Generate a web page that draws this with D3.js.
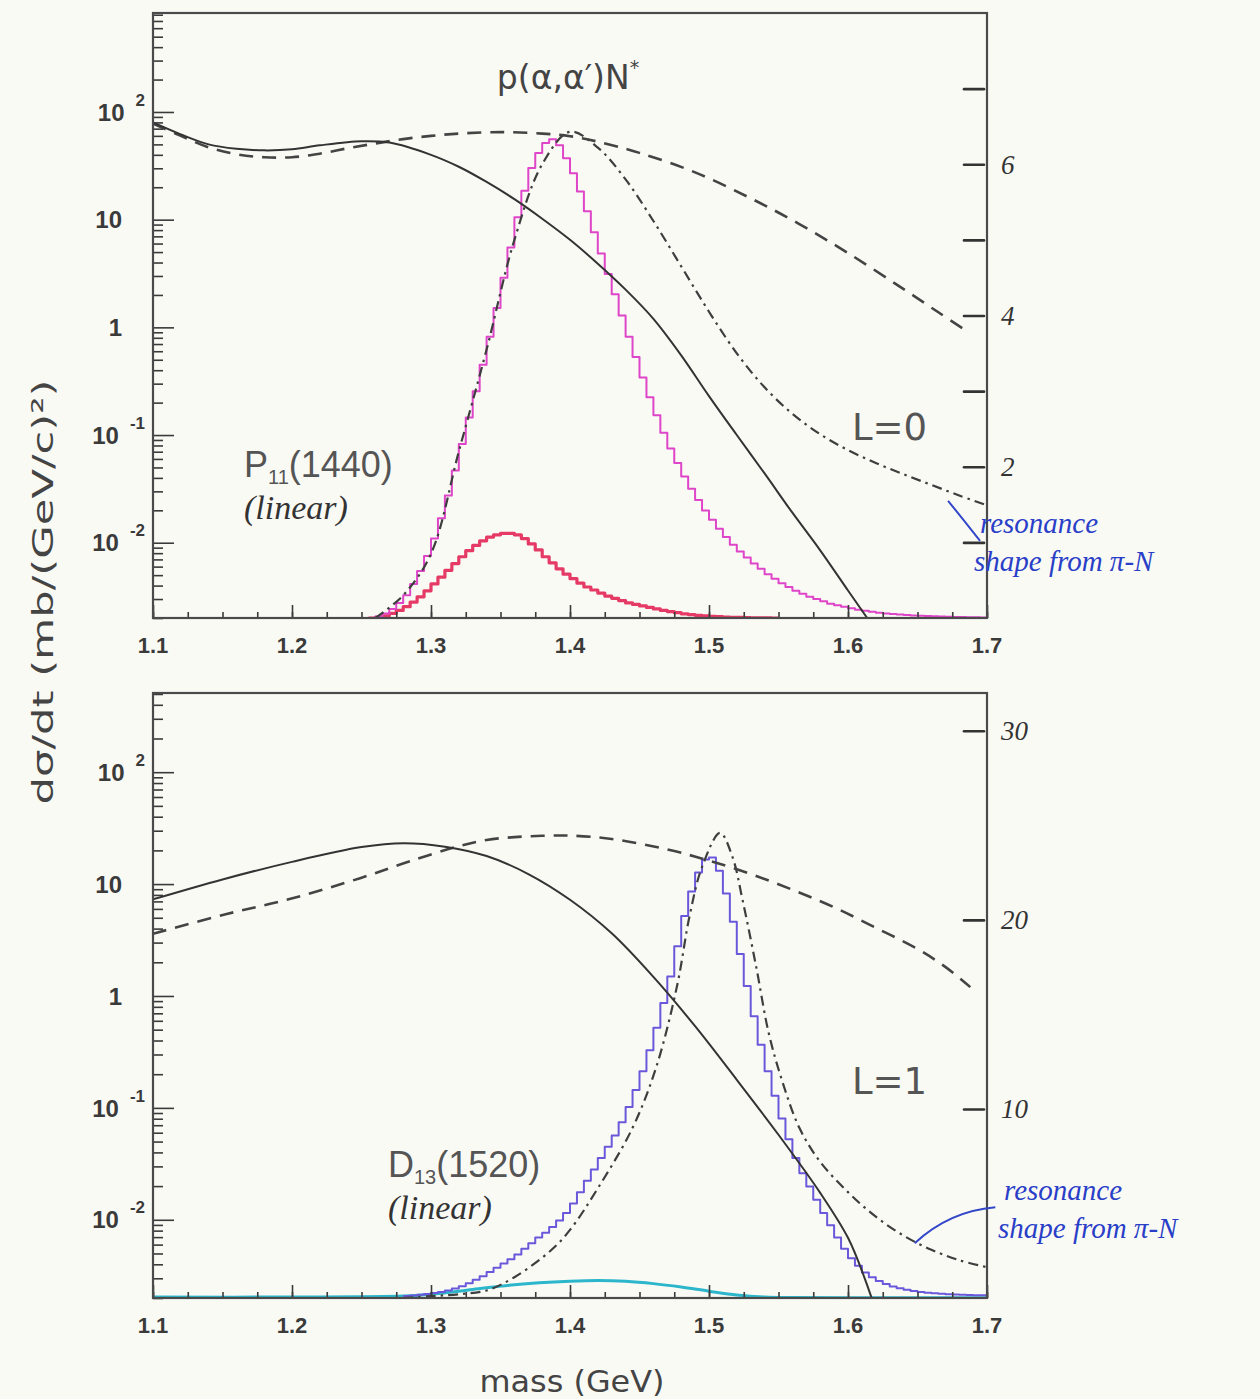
<!DOCTYPE html>
<html>
<head>
<meta charset="utf-8">
<title>p(α,α′)N*</title>
<script src="https://cdn.jsdelivr.net/npm/d3@7/dist/d3.min.js"></script>
<style>
  body { margin: 0; background: #fafaf5; }
  svg { display: block; }
</style>
</head>
<body>
<div id="chart"></div>
<script>
'use strict';

// ---- values ----
var massTicks = [1.1, 1.2, 1.3, 1.4, 1.5, 1.6, 1.7];
var decadeValues = [100, 10, 1, 0.1, 0.01];
var decadeBase = ['10', '10', '1', '10', '10'];
var decadeExp = ['2', '', '', '-1', '-2'];
var binWidth = 0.005;

// upper panel : P11(1440), L=0
var p11SolidMass = [1.10, 1.12, 1.14, 1.16, 1.18, 1.20, 1.22, 1.25, 1.27, 1.30, 1.32, 1.34, 1.36, 1.38, 1.40,
  1.42, 1.44, 1.46, 1.48, 1.50, 1.52, 1.54, 1.56, 1.58, 1.60, 1.615, 1.63];
var p11SolidVal = [80, 62, 50, 45.5, 44, 45, 49, 53.5, 52, 40, 31, 22.4, 15.5, 10.2, 6.5,
  3.9, 2.24, 1.2, 0.55, 0.23, 0.1, 0.044, 0.019, 0.0085, 0.0036, 0.0019, 0.001];
var p11DashMass = [1.10, 1.12, 1.14, 1.16, 1.18, 1.20, 1.22, 1.24, 1.26, 1.28, 1.30, 1.32, 1.35, 1.38, 1.40,
  1.42, 1.45, 1.49, 1.53, 1.565, 1.60, 1.637, 1.665, 1.686];
var p11DashVal = [78, 60, 47, 40.5, 38, 38, 41, 46, 51, 56, 60, 63, 65, 63, 59.6,
  53, 41.7, 27.5, 15.8, 9.1, 4.9, 2.4, 1.38, 0.91];
var p11DotMass = [1.26, 1.28, 1.30, 1.32, 1.34, 1.36, 1.38, 1.40, 1.42, 1.44, 1.46, 1.48, 1.50, 1.52,
  1.54, 1.56, 1.58, 1.60, 1.62, 1.64, 1.66, 1.68, 1.70];
var p11DotVal = [0, 0.3, 0.85, 2.2, 3.55, 5.0, 6.0, 6.43, 6.22, 5.8, 5.25, 4.65, 4.05, 3.5,
  3.05, 2.7, 2.43, 2.22, 2.05, 1.9, 1.76, 1.62, 1.49];
var p11HistStart = 1.255;
var p11Hist = [0.00, 0.02, 0.06, 0.12, 0.20, 0.30, 0.45, 0.62, 0.82, 1.05, 1.32, 1.62, 1.95, 2.30, 2.65,
  3.00, 3.35, 3.72, 4.10, 4.50, 4.90, 5.30, 5.65, 5.95, 6.15, 6.28, 6.33, 6.25, 6.08, 5.88,
  5.64, 5.38, 5.10, 4.82, 4.55, 4.28, 4.00, 3.72, 3.45, 3.18, 2.92, 2.68, 2.45, 2.24, 2.05,
  1.87, 1.71, 1.56, 1.42, 1.30, 1.18, 1.07, 0.97, 0.88, 0.80, 0.72, 0.65, 0.58, 0.52, 0.46,
  0.41, 0.36, 0.32, 0.28, 0.25, 0.22, 0.19, 0.17, 0.15, 0.13, 0.11, 0.095, 0.082, 0.07, 0.06,
  0.052, 0.045, 0.039, 0.034, 0.029, 0.025, 0.022, 0.019, 0.016, 0.014, 0.012, 0.010, 0.009, 0.008];
var p11RedStart = 1.255;
var p11Red = [0.00, 0.01, 0.03, 0.06, 0.10, 0.15, 0.21, 0.28, 0.36, 0.45, 0.54, 0.63, 0.72, 0.81, 0.89,
  0.96, 1.02, 1.07, 1.10, 1.12, 1.12, 1.10, 1.05, 0.98, 0.90, 0.81, 0.73, 0.65, 0.58, 0.52,
  0.46, 0.41, 0.37, 0.33, 0.29, 0.26, 0.23, 0.20, 0.18, 0.16, 0.14, 0.12, 0.10, 0.085, 0.07,
  0.055, 0.045, 0.035, 0.028, 0.022, 0.017, 0.013, 0.010, 0.007, 0.005, 0.003, 0.002, 0.001, 0.0];
var p11RightTicks = [1, 2, 3, 4, 5, 6, 7];
var p11RightLabels = [2, 4, 6];

// lower panel : D13(1520), L=1
var d13SolidMass = [1.10, 1.15, 1.20, 1.25, 1.28, 1.31, 1.34, 1.37, 1.40, 1.43, 1.46, 1.49, 1.52, 1.55,
  1.58, 1.60, 1.612, 1.625];
var d13SolidVal = [7.3, 11, 15.8, 21.4, 23.2, 21.6, 17.8, 12.3, 7.24, 3.63, 1.48, 0.537, 0.178, 0.0575,
  0.0174, 0.0069, 0.003, 0.001];
var d13DashMass = [1.10, 1.153, 1.201, 1.249, 1.285, 1.321, 1.34, 1.36, 1.38, 1.40, 1.43, 1.47, 1.50, 1.53,
  1.56, 1.59, 1.62, 1.65, 1.67, 1.688];
var d13DashVal = [3.6, 5.4, 7.5, 11.3, 16, 22.0, 24.8, 26.3, 27, 27.1, 25.3, 20.4, 16.2, 12.3,
  8.9, 6.2, 4.07, 2.63, 1.82, 1.2];
var d13DotMass = [1.28, 1.30, 1.32, 1.34, 1.36, 1.386, 1.40, 1.42, 1.445, 1.462, 1.477, 1.486, 1.495, 1.508,
  1.517, 1.524, 1.534, 1.543, 1.553, 1.565, 1.58, 1.60, 1.62, 1.64, 1.66, 1.68, 1.70];
var d13DotVal = [0, 0.1, 0.2, 0.4, 1.1, 2.5, 3.6, 5.8, 9.0, 12.2, 16.5, 20.2, 22.8, 24.6,
  23.3, 21.1, 17.5, 14.0, 11.4, 9.0, 7.2, 5.6, 4.3, 3.3, 2.55, 2.0, 1.63];
var d13HistStart = 1.28;
var d13Hist = [0.10, 0.13, 0.17, 0.21, 0.26, 0.32, 0.40, 0.50, 0.62, 0.78, 0.96, 1.15, 1.38, 1.60, 1.82,
  2.05, 2.30, 2.60, 2.90, 3.20, 3.45, 3.75, 4.10, 4.50, 5.00, 5.60, 6.20, 6.80, 7.40, 8.00,
  8.60, 9.30, 10.1, 11.0, 12.0, 13.1, 14.3, 15.6, 17.0, 18.6, 20.2, 21.5, 22.5, 23.2, 23.3,
  22.6, 21.4, 19.9, 18.2, 16.5, 14.9, 13.4, 12.0, 10.7, 9.5, 8.4, 7.4, 6.6, 5.9, 5.2,
  4.5, 3.85, 3.2, 2.6, 2.1, 1.7, 1.35, 1.1, 0.9, 0.74, 0.61, 0.51, 0.43, 0.37, 0.32,
  0.28, 0.25, 0.22, 0.20, 0.18, 0.17, 0.16, 0.15, 0.14];
var d13CyanMass = [1.10, 1.20, 1.28, 1.30, 1.33, 1.36, 1.40, 1.42, 1.44, 1.46, 1.48, 1.50, 1.52, 1.54, 1.56, 1.60, 1.70];
var d13CyanVal = [0.05, 0.05, 0.1, 0.2, 0.45, 0.7, 0.88, 0.92, 0.88, 0.76, 0.58, 0.36, 0.16, 0.05, 0.02, 0.01, 0.01];
var d13RightTicks = [10, 20, 30];
var d13RightLabels = [10, 20, 30];

// ---- drawing ----
var svg = d3.select('#chart').append('svg').attr('width', 1260).attr('height', 1399);
svg.append('rect').attr('width', 1260).attr('height', 1399).attr('fill', '#fafaf5');

var x = d3.scaleLinear().domain([1.1, 1.7]).range([153, 987]);
var minorMass = d3.range(0, 25).map(function(i) { return 1.1 + i * 0.025; });

var sans = '"Liberation Sans", Arial, sans-serif';
var wide = '"DejaVu Sans", "Liberation Sans", sans-serif';
var hand = '"Liberation Serif", "DejaVu Serif", serif';

function zipPts(m, v) {
  return m.map(function(d, i) { return [d, v[i]]; });
}
function histPts(start, vals) {
  var pts = vals.map(function(v, i) { return [start + i * binWidth, v]; });
  pts.push([start + vals.length * binWidth, vals[vals.length - 1]]);
  return pts;
}

function drawPanel(cfg) {
  var yLog = d3.scaleLog().domain(cfg.logDomain).range([cfg.bottom, cfg.top]);
  var yLin = d3.scaleLinear().domain(cfg.linDomain).range([cfg.bottom, cfg.top]);
  var g = svg.append('g').attr('class', 'panel-' + cfg.id);

  g.append('clipPath').attr('id', 'clip-' + cfg.id)
    .append('rect')
    .attr('x', x.range()[0]).attr('y', cfg.top)
    .attr('width', x.range()[1] - x.range()[0]).attr('height', cfg.bottom - cfg.top);

  var plot = g.append('g').attr('clip-path', 'url(#clip-' + cfg.id + ')');

  cfg.curves.forEach(function(c) {
    var yS = c.scale === 'log' ? yLog : yLin;
    var line = d3.line()
      .x(function(d) { return x(d[0]); })
      .y(function(d) { return yS(Math.max(d[1], c.scale === 'log' ? 1e-4 : 0)); })
      .curve(c.step ? d3.curveStepAfter : d3.curveCatmullRom.alpha(0.5));
    plot.append('path')
      .datum(c.pts)
      .attr('d', line)
      .attr('fill', 'none')
      .attr('stroke', c.color)
      .attr('stroke-width', c.width)
      .attr('stroke-dasharray', c.dash || null)
      .attr('stroke-linejoin', 'round');
  });

  // x ticks (inside, pointing up)
  var xMinor = g.append('g').attr('transform', 'translate(0,' + cfg.bottom + ')')
    .call(d3.axisTop(x).tickValues(minorMass).tickSize(6).tickFormat(''));
  var xMajor = g.append('g').attr('transform', 'translate(0,' + cfg.bottom + ')')
    .call(d3.axisTop(x).tickValues(massTicks).tickSize(13).tickFormat(''));

  // left log ticks
  var allLog = yLog.ticks();
  var isDecade = function(v) { return Math.abs(Math.log10(v) - Math.round(Math.log10(v))) < 1e-6; };
  var yMinor = g.append('g').attr('transform', 'translate(' + x.range()[0] + ',0)')
    .call(d3.axisRight(yLog).tickValues(allLog.filter(function(v) { return !isDecade(v); })).tickSize(10).tickFormat(''));
  var yMajor = g.append('g').attr('transform', 'translate(' + x.range()[0] + ',0)')
    .call(d3.axisRight(yLog).tickValues(allLog.filter(isDecade)).tickSize(21).tickFormat(''));

  // right linear ticks, drawn by hand on the original
  var yRight = g.append('g').attr('transform', 'translate(' + (x.range()[1] - 3) + ',0)')
    .call(d3.axisLeft(yLin).tickValues(cfg.rightTicks).tickSize(20).tickFormat(''));

  [xMinor, xMajor, yMinor, yMajor].forEach(function(a) {
    a.select('.domain').remove();
    a.selectAll('line').attr('stroke', '#3a3a3a').attr('stroke-width', 1.6);
  });
  yRight.select('.domain').remove();
  yRight.selectAll('line').attr('stroke', '#333').attr('stroke-width', 2.6).attr('stroke-linecap', 'round');

  // frame
  g.append('rect')
    .attr('x', x.range()[0]).attr('y', cfg.top)
    .attr('width', x.range()[1] - x.range()[0]).attr('height', cfg.bottom - cfg.top)
    .attr('fill', 'none').attr('stroke', '#4a4a4a').attr('stroke-width', 2.2);

  // x tick labels
  g.selectAll('.xlab').data(massTicks).enter().append('text')
    .attr('x', function(d) { return x(d); })
    .attr('y', cfg.bottom + 35)
    .attr('text-anchor', 'middle')
    .style('font', 'bold 22px ' + sans)
    .attr('fill', '#3a3a3a')
    .text(d3.format('.1f'));

  // decade labels
  decadeValues.forEach(function(v, i) {
    var t = g.append('text')
      .attr('y', yLog(v))
      .attr('dy', '0.36em')
      .attr('text-anchor', 'end')
      .style('font', 'bold 24px ' + sans)
      .attr('fill', '#3a3a3a');
    if (decadeExp[i]) {
      t.attr('x', 145);
      t.append('tspan').text(decadeBase[i]);
      t.append('tspan').attr('dx', 11).attr('dy', -15).style('font-size', '17px').text(decadeExp[i]);
    } else {
      t.attr('x', 122).text(decadeBase[i]);
    }
  });

  // right hand-written labels
  g.selectAll('.rlab').data(cfg.rightLabels).enter().append('text')
    .attr('x', x.range()[1] + 14)
    .attr('y', function(d) { return yLin(d); })
    .attr('dy', '0.35em')
    .style('font', 'italic 27px ' + hand)
    .attr('fill', '#333')
    .text(function(d) { return d; });

  // resonance label + L label
  var lab = g.append('text')
    .attr('x', cfg.resX).attr('y', cfg.resY)
    .style('font', '36px ' + sans).attr('fill', '#555');
  lab.append('tspan').text(cfg.resLetter);
  lab.append('tspan').attr('dy', 7).style('font-size', '20px').text(cfg.resSub);
  lab.append('tspan').attr('dy', -7).text(cfg.resMass);
  g.append('text')
    .attr('x', cfg.resX).attr('y', cfg.resY + 42)
    .style('font', 'italic 34px ' + hand).attr('fill', '#333')
    .text('(linear)');
  g.append('text')
    .attr('x', 852).attr('y', cfg.lY)
    .style('font', '37px ' + wide).attr('fill', '#555')
    .text(cfg.lText);

  // blue hand-written annotation pointing at the dash-dot curve
  var a = cfg.arrow.map(function(p) { return [x(p[0]), yLin(p[1])]; });
  var ap = d3.path();
  ap.moveTo(a[0][0], a[0][1]);
  ap.quadraticCurveTo(a[1][0], a[1][1], a[2][0], a[2][1]);
  g.append('path').attr('d', ap.toString())
    .attr('fill', 'none').attr('stroke', '#3347c9').attr('stroke-width', 2);
  g.append('text')
    .attr('x', cfg.noteX).attr('y', cfg.noteY)
    .style('font', 'italic 29px ' + hand).attr('fill', '#2a3fc8')
    .text('resonance');
  g.append('text')
    .attr('x', cfg.noteX - 6).attr('y', cfg.noteY + 38)
    .style('font', 'italic 29px ' + hand).attr('fill', '#2a3fc8')
    .text('shape from π-N');
}

drawPanel({
  id: 'p11', top: 13, bottom: 618,
  logDomain: [0.002, 830], linDomain: [0, 8],
  rightTicks: p11RightTicks, rightLabels: p11RightLabels,
  resLetter: 'P', resSub: '11', resMass: '(1440)', resX: 244, resY: 477,
  lText: 'L=0', lY: 440,
  arrow: [[1.672, 1.55], [1.683, 1.3], [1.695, 1.02]],
  noteX: 980, noteY: 533,
  curves: [
    {pts: histPts(p11RedStart, p11Red), scale: 'lin', step: true, color: '#e63a66', width: 3.2},
    {pts: histPts(p11HistStart, p11Hist), scale: 'lin', step: true, color: '#de45c8', width: 2},
    {pts: zipPts(p11DotMass, p11DotVal), scale: 'lin', color: '#3e3e3e', width: 2.2, dash: '10,5,2.5,5'},
    {pts: zipPts(p11DashMass, p11DashVal), scale: 'log', color: '#444', width: 2.6, dash: '14,9'},
    {pts: zipPts(p11SolidMass, p11SolidVal), scale: 'log', color: '#333', width: 2}
  ]
});

drawPanel({
  id: 'd13', top: 693, bottom: 1298,
  logDomain: [0.002, 510], linDomain: [0, 32],
  rightTicks: d13RightTicks, rightLabels: d13RightLabels,
  resLetter: 'D', resSub: '13', resMass: '(1520)', resX: 388, resY: 1177,
  lText: 'L=1', lY: 1094,
  arrow: [[1.648, 2.9], [1.673, 4.6], [1.706, 4.8]],
  noteX: 1004, noteY: 1200,
  curves: [
    {pts: zipPts(d13CyanMass, d13CyanVal), scale: 'lin', color: '#2cb6cb', width: 3},
    {pts: histPts(d13HistStart, d13Hist), scale: 'lin', step: true, color: '#6a58db', width: 2},
    {pts: zipPts(d13DotMass, d13DotVal), scale: 'lin', color: '#3e3e3e', width: 2.2, dash: '10,5,2.5,5'},
    {pts: zipPts(d13DashMass, d13DashVal), scale: 'log', color: '#444', width: 2.6, dash: '14,9'},
    {pts: zipPts(d13SolidMass, d13SolidVal), scale: 'log', color: '#333', width: 2}
  ]
});

// title and axis titles
var title = svg.append('text')
  .attr('x', 568).attr('y', 89)
  .attr('text-anchor', 'middle')
  .style('font', '33px ' + wide).attr('fill', '#444');
title.append('tspan').text('p(α,α′)N');
title.append('tspan').attr('dy', -15).style('font-size', '19px').text('*');

svg.append('text')
  .attr('transform', 'translate(53,592) rotate(-90)')
  .attr('text-anchor', 'middle')
  .attr('textLength', 425).attr('lengthAdjust', 'spacingAndGlyphs')
  .style('font', '29px ' + wide).attr('fill', '#444')
  .text('dσ/dt (mb/(GeV/c)²)');

svg.append('text')
  .attr('x', 572).attr('y', 1392)
  .attr('text-anchor', 'middle')
  .attr('textLength', 185).attr('lengthAdjust', 'spacingAndGlyphs')
  .style('font', '30px ' + wide).attr('fill', '#444')
  .text('mass (GeV)');
</script>
</body>
</html>
